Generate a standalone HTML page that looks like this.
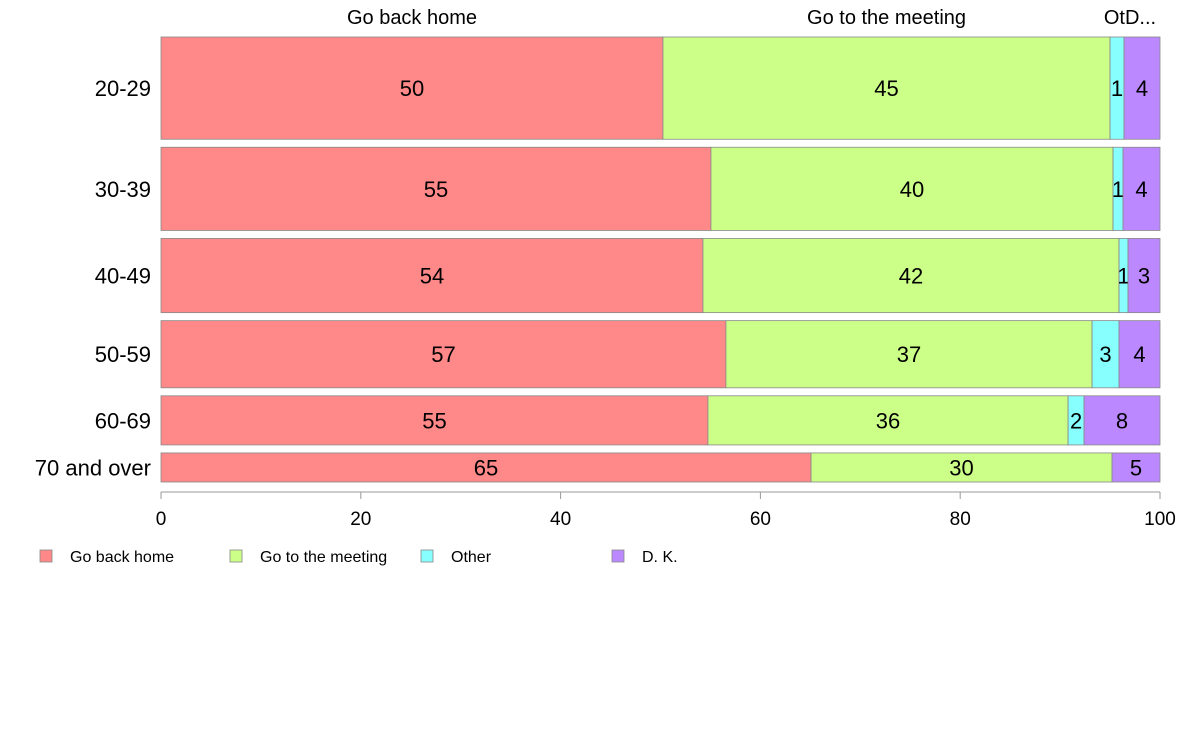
<!DOCTYPE html>
<html><head><meta charset="utf-8"><style>
body{margin:0;background:#fff;width:1188px;height:736px;overflow:hidden}
svg text{font-family:"Liberation Sans",sans-serif}
</style></head><body>
<svg id="chart" width="1188" height="736" xmlns="http://www.w3.org/2000/svg"></svg>
<script>
const categories=["20-29","30-39","40-49","50-59","60-69","70 and over"];
const weights=[102,83,74,67,49,29];
const goHome=[50.25,55.05,54.25,56.55,54.75,65.07];
const goMeeting=[44.75,40.25,41.65,36.65,36.05,30.13];
const other=[1.4,1.0,0.9,2.7,1.6,0];
const dk=[3.6,3.7,3.2,4.1,7.6,4.8];
const seriesNames=["Go back home","Go to the meeting","Other","D. K."];
const colors=["#ff8888","#ccff88","#88ffff","#bb88ff"];
const ticks=[0,20,40,60,80,100];
const topLabels=["Go back home","Go to the meeting","OtD..."];

const svg=document.getElementById('chart');
const NS="http://www.w3.org/2000/svg";
const x0=161,x1=1160,yTop=37,yBot=482,gap=8;
const xs=v=>x0+(x1-x0)*v/100;
const totalW=weights.reduce((a,b)=>a+b,0);
const hUnit=(yBot-yTop-gap*(categories.length-1))/totalW;
function mk(tag,attrs,txt){const e=document.createElementNS(NS,tag);for(const k in attrs)e.setAttribute(k,attrs[k]);if(txt!==undefined)e.textContent=txt;svg.appendChild(e);return e;}
const series=[goHome,goMeeting,other,dk];
let y=yTop;
categories.forEach((c,i)=>{
  const h=weights[i]*hUnit;
  let cum=0;
  series.forEach((s,j)=>{
    const v=s[i];
    if(v>0){
      const r=mk('rect',{x:xs(cum),y:y,width:xs(cum+v)-xs(cum),height:h,fill:colors[j],stroke:'#888','stroke-width':0.8});
      
      
      if(Math.round(v)>=1){
        const t=mk('text',{x:(xs(cum)+xs(cum+v))/2,y:y+h/2+8,'font-size':22,'text-anchor':'middle',fill:'#000'},Math.round(v));
        
        
      }
    }
    cum+=v;
  });
  const l=mk('text',{x:151,y:y+h/2+8,'font-size':22,'text-anchor':'end',fill:'#000'},c);
  
  
  y+=h+gap;
});
// top labels centred on first row segments
let cum=0;
const tx=[(xs(0)+xs(goHome[0]))/2,(xs(goHome[0])+xs(goHome[0]+goMeeting[0]))/2,1130];
topLabels.forEach((t,i)=>{
  const e=mk('text',{x:tx[i],y:24,'font-size':20,'text-anchor':'middle',fill:'#000'},t);
  
  
});
// axis
const ax=mk('line',{x1:x0,x2:x1,y1:492,y2:492,stroke:'#999','stroke-width':1});


ticks.forEach(t=>{
  const tk=mk('line',{x1:xs(t),x2:xs(t),y1:492,y2:499,stroke:'#999','stroke-width':1});
  
  
  const tl=mk('text',{x:xs(t),y:525,'font-size':19,'text-anchor':'middle',fill:'#000'},t);
  
  
});
// legend
const lx=[40,230,421,612];
seriesNames.forEach((n,i)=>{
  const r=mk('rect',{x:lx[i],y:550,width:12,height:12,fill:colors[i],stroke:'#888','stroke-width':0.8});
  
  
  const t=mk('text',{x:lx[i]+30,y:562,'font-size':16,fill:'#000'},n);
  
  
});
</script>
</body></html>
